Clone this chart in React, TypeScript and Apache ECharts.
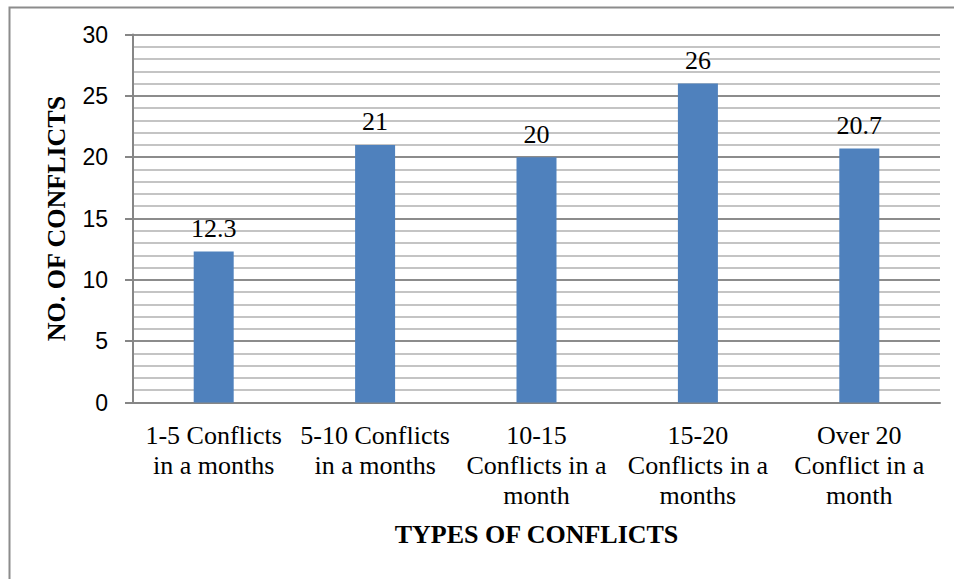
import React, { useEffect, useRef } from "react";
import * as echarts from "echarts";

const categories = [
  "1-5 Conflicts\nin a months",
  "5-10 Conflicts\nin a months",
  "10-15\nConflicts in a\nmonth",
  "15-20\nConflicts in a\nmonths",
  "Over 20\nConflict in a\nmonth",
];
const values = [12.3, 21, 20, 26, 20.7];
const yAxisTitle = "NO. OF CONFLICTS";
const xAxisTitle = "TYPES OF CONFLICTS";

export default function App() {
  const ref = useRef<HTMLDivElement>(null);
  useEffect(() => {
    if (!ref.current) return;
    const chart = echarts.init(ref.current, null, { renderer: "svg" });
    const serif = "Liberation Serif";
    chart.setOption({
      animation: false,
      backgroundColor: "#ffffff",
      textStyle: { fontFamily: serif },
      graphic: [
        {
          type: "rect",
          shape: { x: 9.5, y: 7.5, width: 970, height: 600 },
          style: { fill: "none", stroke: "#8c8c8c", lineWidth: 2 },
          silent: true,
        },
      ],
      grid: { left: 133, right: 14, top: 34.5, bottom: 176.5, containLabel: false },
      xAxis: {
        type: "category",
        data: categories,
        axisLine: { show: true, lineStyle: { color: "#868686", width: 2 } },
        axisTick: { show: false },
        axisLabel: {
          interval: 0,
          margin: 18,
          fontFamily: serif,
          fontSize: 26,
          lineHeight: 30,
          color: "#000",
        },
        name: xAxisTitle,
        nameLocation: "middle",
        nameGap: 119,
        nameTextStyle: { fontFamily: serif, fontSize: 26, fontWeight: "bold", color: "#000" },
      },
      yAxis: {
        type: "value",
        min: 0,
        max: 30,
        interval: 5,
        axisLine: { show: true, lineStyle: { color: "#868686", width: 2 } },
        axisTick: { show: true, length: 8, lineStyle: { color: "#868686", width: 2 } },
        axisLabel: {
          margin: 25,
          fontFamily: "Liberation Sans",
          fontSize: 23,
          color: "#000",
        },
        splitLine: { show: true, lineStyle: { color: "#8c8c8c", width: 2 } },
        minorTick: { show: false, splitNumber: 5 },
        minorSplitLine: { show: true, lineStyle: { color: "#c4c4c4", width: 2 } },
        name: yAxisTitle,
        nameLocation: "middle",
        nameGap: 64,
        nameRotate: 90,
        nameTextStyle: { fontFamily: serif, fontSize: 26, fontWeight: "bold", color: "#000" },
      },
      series: [
        {
          type: "bar",
          data: values,
          barWidth: 40,
          itemStyle: { color: "#4F81BD" },
          label: {
            show: true,
            position: "top",
            distance: 10,
            fontFamily: serif,
            fontSize: 26,
            color: "#000",
          },
        },
      ],
    });
    return () => chart.dispose();
  }, []);
  return (
    <div
      ref={ref}
      style={{ position: "fixed", left: 0, top: 0, width: 954, height: 579 }}
    />
  );
}
